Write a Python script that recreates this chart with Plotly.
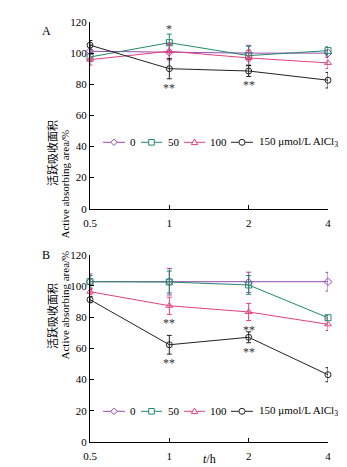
import plotly.graph_objects as go

# ---------------- data ----------------
times = ["0.5", "1", "2", "4"]
series_names = ["0", "50", "100", "150 μmol/L AlCl<sub>3</sub>"]

# Panel A
a_0 = [101.2, 100.6, 100.0, 100.0]
a_50 = [97.5, 106.7, 98.4, 101.6]
a_100 = [95.8, 101.2, 96.9, 93.7]
a_150 = [105.1, 90.0, 88.5, 82.6]
a_0_err = [4.0, 5.0, 5.0, 2.0]
a_50_err = [3.0, 5.5, 6.0, 2.5]
a_100_err = [3.5, 5.0, 5.0, 3.5]
a_150_err = [3.0, 6.5, 3.5, 5.0]

# Panel B
b_0 = [102.7, 102.7, 102.3, 102.7]
b_50 = [102.7, 102.5, 100.6, 79.6]
b_100 = [96.3, 87.3, 83.3, 75.4]
b_150 = [91.2, 62.3, 67.1, 43.1]
b_0_err = [5.0, 8.5, 6.5, 6.0]
b_50_err = [4.0, 7.0, 6.0, 1.5]
b_100_err = [2.0, 5.5, 5.5, 4.0]
b_150_err = [2.0, 6.0, 3.5, 4.5]

# significance marks: (series index, time index, text, position)
a_marks = [(1, 1, "*", "above"), (3, 1, "**", "below"), (3, 2, "**", "below"),
           (2, 3, "*", "right"), (3, 3, "*", "righttop"), (3, 3, "**", "below")]
b_marks = [(2, 1, "**", "below"), (3, 1, "**", "below"), (2, 2, "**", "below"),
           (3, 2, "**", "below"), (1, 3, "**", "above"), (2, 3, "**", "below"),
           (3, 3, "**", "below")]

# ---------------- style ----------------
colors = ["#9B48B4", "#22896A", "#E2407C", "#222222"]
symbols = ["diamond-open", "square-open", "triangle-up-open", "circle-open"]
SERIF = "Liberation Serif, Times New Roman, serif"
CJK = "Noto Sans CJK SC"

W, H = 347, 467
ML, MR, MT, MB = 82, 27, 14, 33
PW, PH = W - ML - MR, H - MT - MB


def px2paper(px, py):
    return (px - ML) / PW, (H - MB - py) / PH


fig = go.Figure()

panels = [
    ("x", "y", [a_0, a_50, a_100, a_150], [a_0_err, a_50_err, a_100_err, a_150_err], a_marks),
    ("x2", "y2", [b_0, b_50, b_100, b_150], [b_0_err, b_50_err, b_100_err, b_150_err], b_marks),
]

annotations = []
for xa, ya, vals, errs, marks in panels:
    for i in range(4):
        fig.add_trace(go.Scatter(
            x=times, y=vals[i], xaxis=xa, yaxis=ya, mode="lines+markers",
            name=series_names[i], showlegend=False, cliponaxis=False,
            line=dict(color=colors[i], width=1),
            marker=dict(symbol=symbols[i], size=6, color=colors[i], line=dict(width=1, color=colors[i])),
            error_y=dict(type="data", array=errs[i], visible=True, color=colors[i], thickness=1, width=2.5),
        ))
    for si, ti, txt, pos in marks:
        v, e = vals[si][ti], errs[si][ti]
        if pos == "below":
            yv, ysh, xsh = v - e, -9, 0
        elif pos == "above":
            yv, ysh, xsh = v + e, 5, 0
        elif pos == "right":
            yv, ysh, xsh = v, 0, 8
        else:  # righttop
            yv, ysh, xsh = v + e, -3, 8
        annotations.append(dict(x=times[ti], y=yv, xref=xa, yref=ya, text=txt, showarrow=False,
                                yshift=ysh, xshift=xsh, font=dict(family=SERIF, size=12, color="#333333"),
                                yanchor="middle", xanchor="center"))

axis_common = dict(showline=True, linecolor="black", linewidth=1, ticks="inside", ticklen=4,
                   tickcolor="black", tickwidth=1, showgrid=False, zeroline=False, automargin=False,
                   tickfont=dict(family=SERIF, size=11, color="black"))

A_bot = (434 - 200.7) / PH
B_top = (434 - 246.7) / PH

fig.update_layout(
    width=W, height=H, margin=dict(l=ML, r=MR, t=MT, b=MB),
    paper_bgcolor="white", plot_bgcolor="white", showlegend=False,
    xaxis=dict(type="category", categoryorder="array", categoryarray=times, range=[0, 3],
               anchor="y", domain=[0, 1], ticklabelstandoff=4, **axis_common),
    yaxis=dict(range=[0, 120], dtick=20, anchor="x", domain=[A_bot, 1], **axis_common),
    xaxis2=dict(type="category", categoryorder="array", categoryarray=times, range=[0, 3],
                anchor="y2", domain=[0, 1], ticklabelstandoff=4, **axis_common),
    yaxis2=dict(range=[0, 120], dtick=20, anchor="x2", domain=[0, B_top], **axis_common),
)

# panel labels, axis titles
for lab, py in [("A", 14), ("B", 246.7)]:
    x, y = px2paper(32, py)
    annotations.append(dict(x=x, y=y, xref="paper", yref="paper", text=lab, showarrow=False,
                            font=dict(family=SERIF, size=12, color="black")))
for pyc, pye in [(110, 120), (343, 354)]:
    x, y = px2paper(34, pyc)
    annotations.append(dict(x=x, y=y, xref="paper", yref="paper", text="活跃吸收面积", showarrow=False,
                            textangle=-90, font=dict(family=CJK, size=11, color="black")))
    x, y = px2paper(48, pye)
    annotations.append(dict(x=x, y=y, xref="paper", yref="paper", text="Active absorbing area/%",
                            showarrow=False, textangle=-90, font=dict(family=SERIF, size=11, color="black")))
x, y = px2paper(201, 460)
annotations.append(dict(x=x, y=y, xref="paper", yref="paper", text="<i>t</i>/h", showarrow=False,
                        font=dict(family=SERIF, size=12, color="black")))

# custom legends
shapes = []
leg_lines = [(95, 117), (133, 154), (176, 197), (223, 245)]
leg_text_x = [120, 158, 200, 249]
marker_paths = [
    "M0,3.2 L3.2,0 L0,-3.2 L-3.2,0 Z",
    "M-2.8,-2.8 L2.8,-2.8 L2.8,2.8 L-2.8,2.8 Z",
    "M-3.2,-2.3 L3.2,-2.3 L0,3.3 Z",
    None,
]
for ly in [134.3, 403.3]:
    for i in range(4):
        x0, yy = px2paper(leg_lines[i][0], ly)
        x1, _ = px2paper(leg_lines[i][1], ly)
        shapes.append(dict(type="line", xref="paper", yref="paper", x0=x0, x1=x1, y0=yy, y1=yy,
                           line=dict(color=colors[i], width=1)))
        xm = (x0 + x1) / 2
        if marker_paths[i]:
            shapes.append(dict(type="path", xref="paper", yref="paper", xsizemode="pixel",
                               ysizemode="pixel", xanchor=xm, yanchor=yy, path=marker_paths[i],
                               fillcolor="white", line=dict(color=colors[i], width=1)))
        else:
            shapes.append(dict(type="circle", xref="paper", yref="paper", xsizemode="pixel",
                               ysizemode="pixel", xanchor=xm, yanchor=yy, x0=-3, x1=3, y0=-3, y1=3,
                               fillcolor="white", line=dict(color=colors[i], width=1)))
        tx, _ = px2paper(leg_text_x[i], ly)
        annotations.append(dict(x=tx, y=yy, xref="paper", yref="paper", text=series_names[i],
                                showarrow=False, xanchor="left", yanchor="middle",
                                font=dict(family=SERIF, size=11, color="black")))

fig.update_layout(annotations=annotations, shapes=shapes)
fig.write_html("out.html")
